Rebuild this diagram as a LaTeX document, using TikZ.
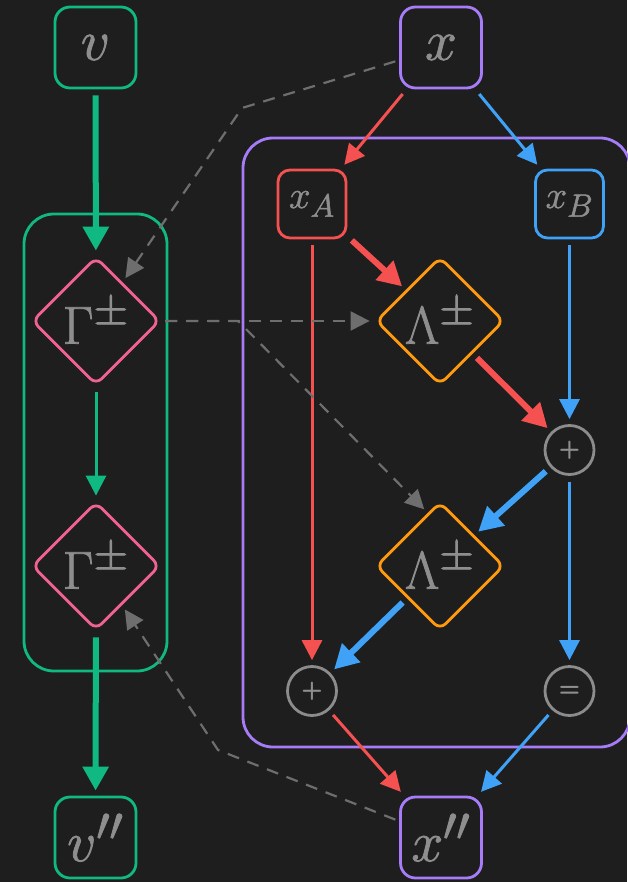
\documentclass[tikz,border=0pt]{standalone}
\usepackage{graphicx}
\usetikzlibrary{arrows.meta,shapes.geometric}
\definecolor{bg}{HTML}{1E1E1E}
\definecolor{cgreen}{HTML}{10B981}
\definecolor{cpurple}{HTML}{A77CF8}
\definecolor{cred}{HTML}{F55151}
\definecolor{cblue}{HTML}{3FA2F6}
\definecolor{corange}{HTML}{FF9A0F}
\definecolor{cpink}{HTML}{F06292}
\definecolor{ctext}{HTML}{8E8E8E}
\definecolor{cdash}{HTML}{6E6E6E}
\definecolor{ccirc}{HTML}{8C8C8C}
\newcommand{\biglabel}[2]{\scalebox{#1}{\Huge\special{pdf:literal direct 2 Tr 0.35 w}#2\special{pdf:literal direct 0 Tr}}}
\tikzset{
  varbox/.style={draw, line width=2.8pt, rounded corners=15pt, minimum width=81pt, minimum height=81pt, inner sep=0pt, text=ctext},
  subbox/.style={draw, line width=2.8pt, rounded corners=12pt, minimum width=68pt, minimum height=68pt, inner sep=0pt, text=ctext},
  opdiamond/.style={diamond, aspect=1, draw, line width=2.8pt, rounded corners=8pt, minimum width=128pt, minimum height=128pt, inner sep=0pt, text=ctext},
  opcircle/.style={circle, draw=ccirc, line width=2.8pt, minimum size=49pt, inner sep=0pt, text=ctext, font=\Huge\sffamily\bfseries},
  container/.style={draw, line width=2.8pt, rounded corners=30pt},
  thinarrow/.style={line width=3pt, shorten >=5pt, shorten <=6pt, -{Triangle[length=20pt,width=20pt]}},
  thickarrow/.style={line width=6pt, shorten >=5pt, shorten <=6pt, -{Triangle[length=24pt,width=25pt]}},
  dasharrow/.style={draw=cdash, line width=2.2pt, dash pattern=on 12pt off 9pt, shorten >=5pt, shorten <=4pt, -{Triangle[length=19pt,width=19pt]}},
}
\begin{document}
\begin{tikzpicture}[x=1pt,y=-1pt]
\fill[bg] (0,0) rectangle (627,882);
\useasboundingbox (0,0) rectangle (627,882);
% containers
\draw[container, cgreen] (24,214) rectangle (167,671);
\draw[container, cpurple] (243,138) rectangle (630,747);
% nodes
\node[varbox, draw=cgreen] (v) at (95.5,47.5) {\biglabel{2.3}{$v$}};
\node[varbox, draw=cpurple] (x) at (441,47.5) {\biglabel{2.3}{$x$}};
\node[varbox, draw=cgreen] (v2) at (95.5,837.5) {\biglabel{2.3}{$v''$}};
\node[varbox, draw=cpurple] (x2) at (441,837.5) {\biglabel{2.3}{$x''$}};
\node[subbox, draw=cred] (xA) at (312,204) {\biglabel{1.55}{$x_A$}};
\node[subbox, draw=cblue] (xB) at (569.5,204) {\biglabel{1.55}{$x_B$}};
\node[opdiamond, draw=cpink] (G1) at (96,321) {\biglabel{2.15}{$\Gamma^{\pm}$}};
\node[opdiamond, draw=cpink] (G2) at (96,566) {\biglabel{2.15}{$\Gamma^{\pm}$}};
\node[opdiamond, draw=corange] (L1) at (440,321) {\biglabel{2.15}{$\Lambda^{\pm}$}};
\node[opdiamond, draw=corange] (L2) at (440,566) {\biglabel{2.15}{$\Lambda^{\pm}$}};
\node[opcircle] (p1) at (569.5,450) {+};
\node[opcircle] (p2) at (312,691) {+};
\node[opcircle] (eq) at (569.5,691) {=};
% bend points of dashed connectors
\coordinate (c1) at (242,108);
\coordinate (c2) at (238,321);
\coordinate (c3) at (218,750);
% green flow
\draw[thickarrow, cgreen] (v) -- (G1);
\draw[thinarrow, cgreen] (G1) -- (G2);
\draw[thickarrow, cgreen] (G2) -- (v2);
% x flow
\draw[thinarrow, cred] (x) -- (xA);
\draw[thinarrow, cblue] (x) -- (xB);
\draw[thickarrow, cred] (xA) -- (L1);
\draw[thinarrow, cred] (xA) -- (p2);
\draw[thinarrow, cblue] (xB) -- (p1);
\draw[thickarrow, cred] (L1) -- (p1);
\draw[thickarrow, cblue] (p1) -- (L2);
\draw[thinarrow, cblue] (p1) -- (eq);
\draw[thickarrow, cblue] (L2) -- (p2);
\draw[thinarrow, cred] (p2) -- (x2);
\draw[thinarrow, cblue] (eq) -- (x2);
% dashed
\draw[dasharrow] (x) -- (c1) -- (G1);
\draw[dasharrow] (G1) -- (L1);
\draw[dasharrow] (G1) -- (c2) -- (L2.103);
\draw[dasharrow] (x2) -- (c3) -- (G2);
\end{tikzpicture}
\end{document}
